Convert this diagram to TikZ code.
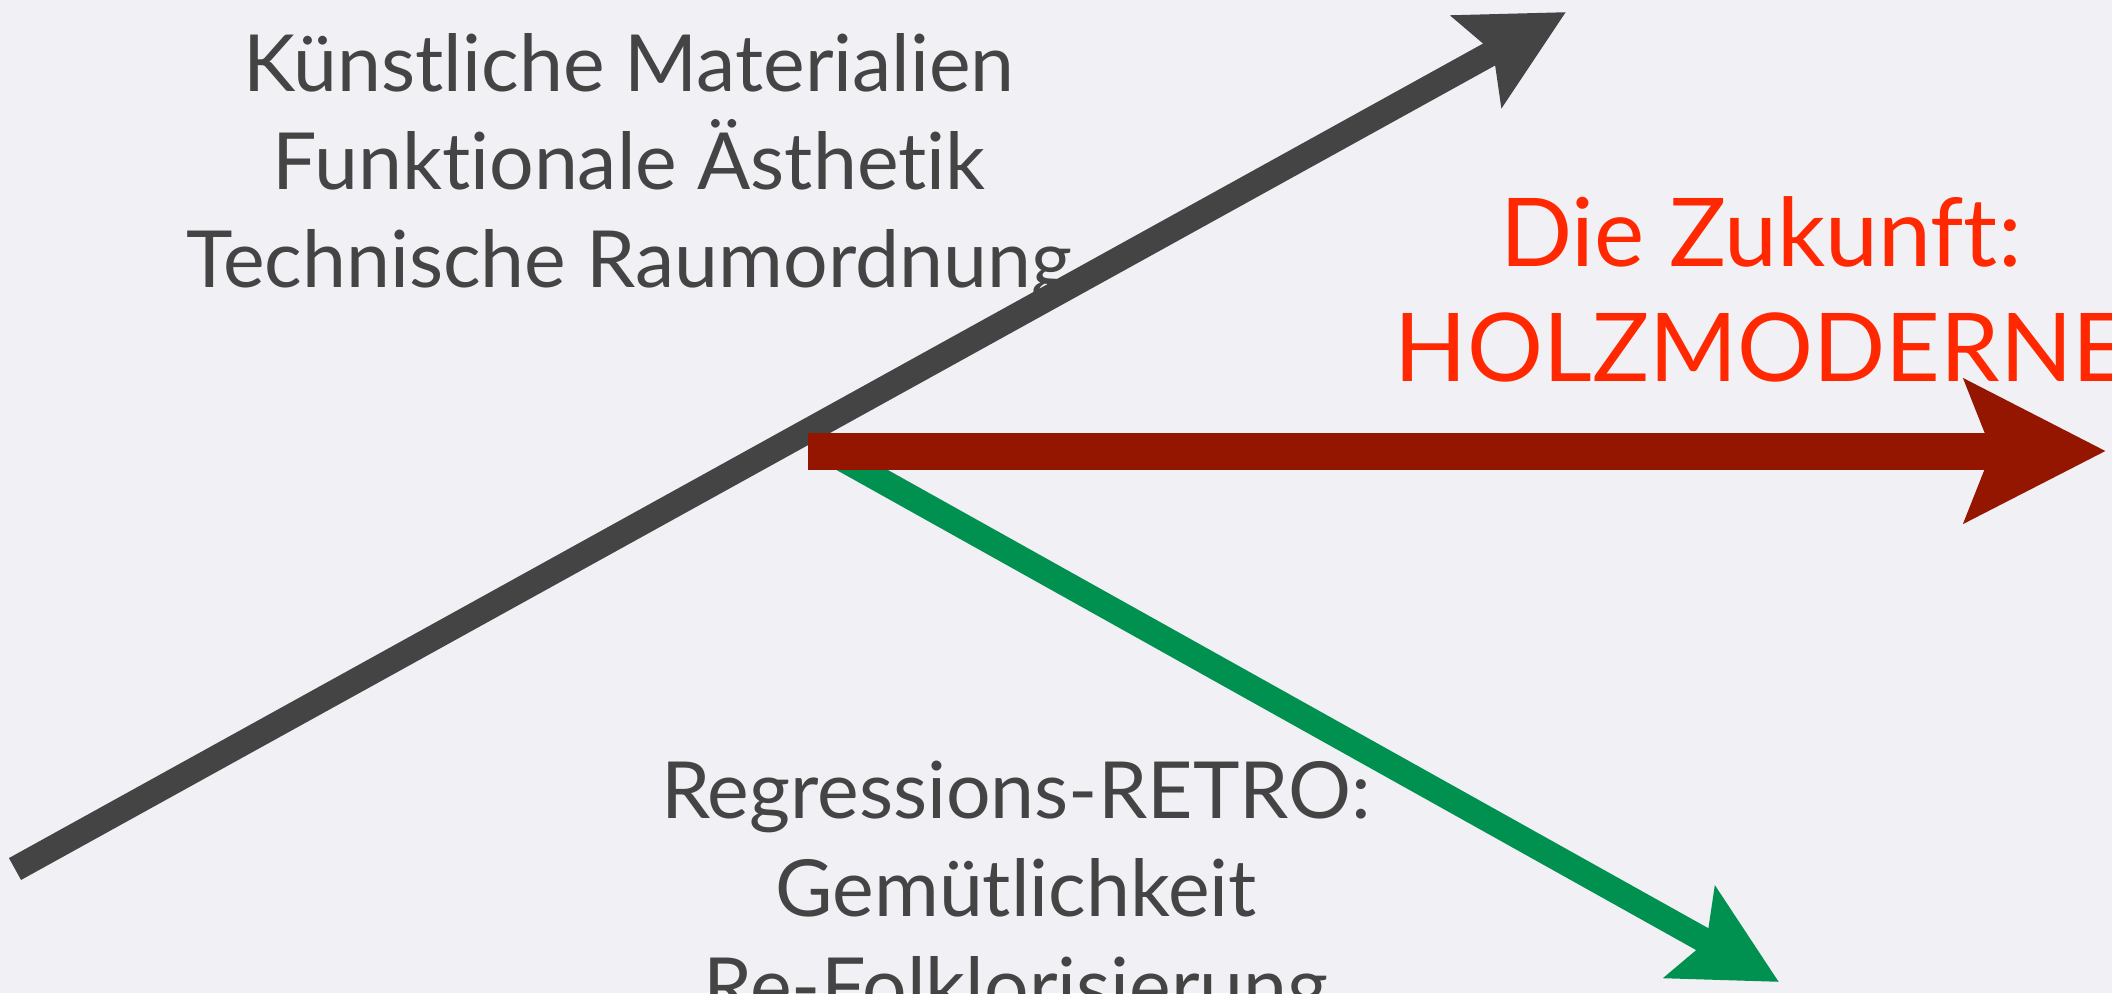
\documentclass[tikz,border=0pt]{standalone}
\usepackage{fontspec}
\setmainfont{Lato}[Ligatures={NoCommon}]
\usetikzlibrary{arrows.meta}

\definecolor{paper}{RGB}{240,240,245}
\definecolor{slate}{RGB}{68,68,68}
\definecolor{rust}{RGB}{148,21,0}
\definecolor{signal}{RGB}{255,40,0}
\definecolor{pine}{RGB}{0,145,80}

\begin{document}
\begin{tikzpicture}[
  x=0.01cm, y=-0.01cm,
  trend/.style={line width=0.25cm, -{Stealth[length=1.01cm, width=1.02cm, inset=0.18cm]}},
  future/.style={line width=0.37cm, -{Stealth[length=1.40cm, width=1.40cm, inset=0.26cm]}},
  caption/.style={align=center, text=slate, inner sep=0pt, font=\fontsize{22.4}{27.8}\selectfont},
  headline/.style={align=center, text=signal, inner sep=0pt, font=\fontsize{27}{32.7}\selectfont},
]
\fill[paper] (0,0) rectangle (2112,993);
\useasboundingbox (0,0) rectangle (2112,993);

% end points of the three trends
\coordinate (modernTail) at (15,869);
\coordinate (modernTip) at (1566,12);
\coordinate (split) at (808,451);
\coordinate (retroStart) at (830,452);
\coordinate (retroTip) at (1779,982);
\coordinate (holzTip) at (2106,451);

\draw[trend, slate] (modernTail) -- (modernTip);
\draw[trend, pine] (retroStart) -- (retroTip);
\draw[future, rust] (split) -- (holzTip);

% labels (anchored at the baseline of the last line)
\node[caption, anchor=base] (modernText) at (629,287) {Künstliche Materialien\\Funktionale Ästhetik\\Technische Raumordnung};
\node[headline, anchor=base] (holzText) at (1761,381) {Die Zukunft:\\HOLZMODERNE};
\node[caption, anchor=base] (retroText) at (1016,1014) {Regressions-RETRO:\\Gemütlichkeit\\Re-Folklorisierung};
\end{tikzpicture}
\end{document}
